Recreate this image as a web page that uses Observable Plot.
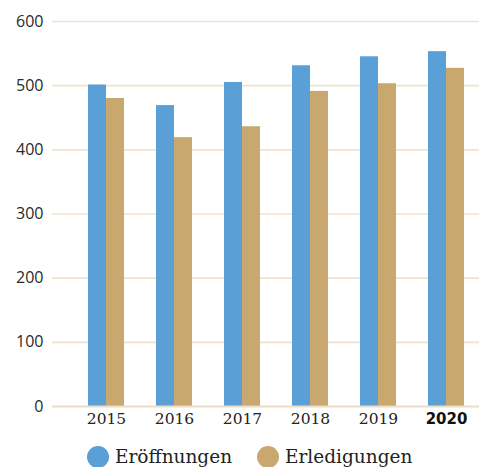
<!DOCTYPE html>
<html>
<head>
<meta charset="utf-8">
<script src="https://cdn.jsdelivr.net/npm/d3@7"></script>
<script src="https://cdn.jsdelivr.net/npm/@observablehq/plot@0.6"></script>
<style>
  body { margin: 0; background: #fff; }
  #chart { position: relative; width: 479px; }
  .legend { position: relative; width: 479px; height: 27px; margin-top: 3px; font-family: "DejaVu Serif", serif; font-size: 18.5px; color: #222; }
  .item { position: absolute; top: 0; height: 27px; display: flex; align-items: center; }
  .dot { width: 22px; height: 22px; border-radius: 50%; margin-right: 6px; }
</style>
</head>
<body>
<div id="chart"></div>
<script>
const years = ["2015", "2016", "2017", "2018", "2019", "2020"];
const eroeffnungen = [501, 469, 505, 531, 545, 553];
const erledigungen = [480, 419, 436, 491, 503, 527];
const yTicks = [0, 100, 200, 300, 400, 500, 600];
const seriesNames = ["Eröffnungen", "Erledigungen"];
const colors = ["#5A9FD6", "#C9A870"];

const rowsA = years.map((y, i) => ({year: y, value: eroeffnungen[i]}));
const rowsB = years.map((y, i) => ({year: y, value: erledigungen[i]}));

const chart = Plot.plot({
  width: 479,
  height: 440,
  marginLeft: 52,
  marginRight: 0,
  marginTop: 21,
  marginBottom: 34,
  x: {domain: years, range: [72, 480], paddingInner: 32 / 68, paddingOuter: 16 / 68, axis: null},
  y: {domain: [0, 600], axis: null},
  marks: [
    Plot.ruleY(yTicks.filter(d => d > 0), {stroke: "#F0E2CE", strokeWidth: 1.6}),
    Plot.barY(rowsA, {x: "year", y: "value", fill: colors[0], insetRight: 18}),
    Plot.barY(rowsB, {x: "year", y: "value", fill: colors[1], insetLeft: 18}),
    Plot.ruleY([0], {stroke: "#EBDCC6", strokeWidth: 2}),
    Plot.text(yTicks, {y: d => d, text: d => String(d), frameAnchor: "left", textAnchor: "end", dx: -9,
      fontFamily: "Open Sans", fontSize: 16, fill: "#2a2a2a"}),
    Plot.text(years.filter(d => d !== "2020"), {x: d => d, text: d => d, frameAnchor: "bottom", dy: 17,
      fontFamily: "DejaVu Serif", fontSize: 15.5, fill: "#222"}),
    Plot.text(years.filter(d => d === "2020"), {x: d => d, text: d => d, frameAnchor: "bottom", dy: 17,
      fontFamily: "DejaVu Sans", fontWeight: "bold", fontSize: 15, fill: "#111"})
  ]
});
document.getElementById("chart").appendChild(chart);

const legend = document.createElement("div");
legend.className = "legend";
const lefts = [87, 257];
seriesNames.forEach((name, i) => {
  const item = document.createElement("div");
  item.className = "item";
  item.style.left = lefts[i] + "px";
  const dot = document.createElement("span");
  dot.className = "dot";
  dot.style.background = colors[i];
  const label = document.createElement("span");
  label.textContent = name;
  item.appendChild(dot);
  item.appendChild(label);
  legend.appendChild(item);
});
document.getElementById("chart").appendChild(legend);
</script>
</body>
</html>
